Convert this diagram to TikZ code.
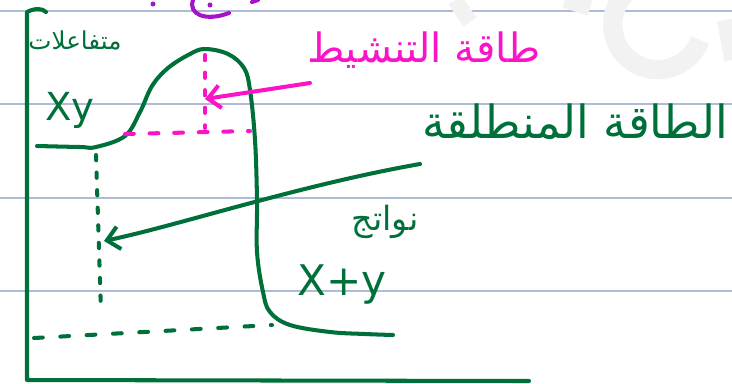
\documentclass[tikz,border=0pt]{standalone}
\usepackage{fontspec}
\setmainfont{DejaVu Sans}
\newfontfamily\arabicfont[Script=Arabic]{DejaVu Sans}
\TeXXeTstate=1
\usetikzlibrary{arrows.meta,calc}
\definecolor{PenGreen}{RGB}{0,112,58}
\definecolor{PenPink}{RGB}{250,20,200}
\definecolor{PenPurple}{RGB}{165,20,200}
\definecolor{RuleBlue}{RGB}{175,188,215}
\definecolor{MarkGray}{RGB}{242,242,242}
\tikzset{
  pen/.style={line width=2.3pt,line cap=round,line join=round},
  dots/.style={pen,dash pattern=on 3pt off 7pt},
  handtip/.style={-{Straight Barb[length=7pt,width=13pt,line width=2.3pt]}},
  lbl/.style={inner sep=0pt,font=\fontsize{#1}{#1}\selectfont},
  lbl/.default=19,
}

\begin{document}
\begin{tikzpicture}[x=0.02cm,y=-0.02cm]
  \useasboundingbox (0,0) rectangle (732,383);
  % notebook rules and the faint watermark
  \foreach \yy in {11,104,198,291}
    \draw[RuleBlue,line width=0.8pt] (0,\yy)--(732,\yy);
  \draw[MarkGray,line width=9pt] (455,0)--(470,22) (565,0)--(590,8);
  \draw[MarkGray,line width=11pt] (700,40) arc[start angle=20,end angle=230,radius=45];
  \draw[MarkGray,line width=9pt] (725,20)--(732,60);
  % purple scribbles cut at the top
  \fill[PenPurple] (153,4) circle (2.5);
  \fill[PenPurple] (210,5) circle (2.5);
  \draw[pen,PenPurple] (193,0) .. controls (188,14) and (205,22) .. (229,13);
  \draw[pen,PenPurple] (252,2)--(258,0);
  % axes
  \draw[pen,PenGreen] (27,380)--(27,12) .. controls (35,8) and (42,8) .. (46,12)
    (27,380)--(529,381);
  % energy curve
  \draw[pen,PenGreen] plot[smooth,tension=0.6] coordinates
    {(37,146)(80,147)(96,147)(125,136)(140,112)(152,86)(168,68)(190,54)(205,49)
     (228,54)(244,68)(250,90)(255,140)(257,200)(257,252)(263,292)(270,312)
     (290,325)(330,332)(365,334)(393,335)};
  % levels
  \draw[dots,PenPink] (205,55)--(205,128);
  \draw[dots,PenPink,dash pattern=on 5pt off 9pt] (125,134)--(250,131);
  \draw[dots,PenGreen] (96,155)--(101,312);
  \draw[dots,PenGreen,dash pattern=on 5pt off 10pt] (34,338)--(272,325);
  % labels
  \node[lbl=14,PenGreen] (reac) at (75,40) {\arabicfont\beginR متفاعلات\endR};
  \node[lbl=22,PenGreen] (xy) at (70,110) {Xy};
  \node[lbl=23,PenPink] (act) at (424,50) {\arabicfont\beginR طاقة التنشيط\endR};
  \node[lbl=26,PenGreen] (rel) at (575,122) {\arabicfont\beginR الطاقة المنطلقة\endR};
  \node[lbl,PenGreen] (prod) at (385,222) {\arabicfont\beginR نواتج\endR};
  \node[lbl=24,PenGreen] (xpy) at (342,285) {X+y};
  % arrows
  \coordinate (actfrom) at (310,83);
  \coordinate (actto) at (205,99);
  \coordinate (relfrom) at (420,164);
  \coordinate (relto) at (104,241);
  \draw[pen,PenPink,handtip] (actfrom)--(actto);
  \draw[pen,PenGreen,handtip] (relfrom) .. controls (300,185) and (180,225) .. (relto);
\end{tikzpicture}
\end{document}
